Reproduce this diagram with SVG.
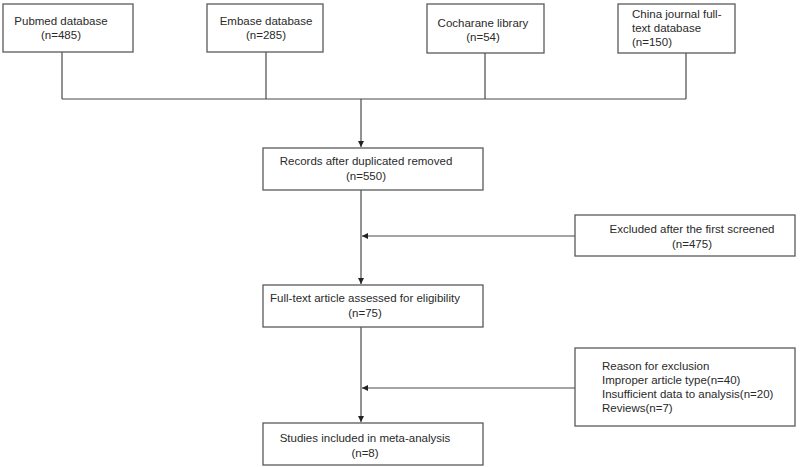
<svg xmlns="http://www.w3.org/2000/svg" width="800" height="467" viewBox="0 0 800 467">
<defs>
<style>
.box{fill:#fff;stroke:#5a5a5a;stroke-width:1.3}
.t{font-family:"Liberation Sans",Arial,sans-serif;font-size:11.5px;fill:#2a2a2a}
.m{text-anchor:middle}
.ln{fill:none;stroke:#4a4a4a;stroke-width:1.2}
</style>
<marker id="ah" viewBox="0 0 10 10" refX="10" refY="5" markerWidth="6" markerHeight="6" markerUnits="userSpaceOnUse" orient="auto">
<path d="M0,0 L10,5 L0,10 z" fill="#222"/>
</marker>
</defs>
<rect width="800" height="467" fill="#fff"/>
<g id="connectors">
<path class="ln" d="M62,52 V99 M266,52 V99 M485,53 V99 M686,53 V99 M62,99 H686"/>
<path class="ln" d="M361,99 V147" marker-end="url(#ah)"/>
<path class="ln" d="M361,190 V284" marker-end="url(#ah)"/>
<path class="ln" d="M575,236 H362" marker-end="url(#ah)"/>
<path class="ln" d="M361,327 V422" marker-end="url(#ah)"/>
<path class="ln" d="M575,388 H362" marker-end="url(#ah)"/>
</g>
<g id="pubmed">
<rect class="box" x="3" y="4" width="130" height="48"/>
<text class="t m" x="61" y="25">Pubmed database</text>
<text class="t m" x="61" y="39">(n=485)</text>
</g>
<g id="embase">
<rect class="box" x="207" y="4" width="116" height="48"/>
<text class="t m" x="266" y="25">Embase database</text>
<text class="t m" x="266" y="39">(n=285)</text>
</g>
<g id="cochrane">
<rect class="box" x="427" y="4" width="117" height="49"/>
<text class="t m" x="483" y="27">Cocharane library</text>
<text class="t m" x="483" y="41">(n=54)</text>
</g>
<g id="china">
<rect class="box" x="618" y="4" width="117" height="49"/>
<text class="t" x="632" y="18">China journal full-</text>
<text class="t" x="632" y="32">text database</text>
<text class="t" x="632" y="46">(n=150)</text>
</g>
<g id="records">
<rect class="box" x="263" y="148" width="220" height="42"/>
<text class="t m" x="366" y="165">Records after duplicated removed</text>
<text class="t m" x="366" y="180">(n=550)</text>
</g>
<g id="excluded">
<rect class="box" x="575" y="215" width="220" height="41"/>
<text class="t m" x="692" y="233">Excluded after the first screened</text>
<text class="t m" x="692" y="248">(n=475)</text>
</g>
<g id="fulltext">
<rect class="box" x="263" y="285" width="220" height="42"/>
<text class="t m" x="365" y="302">Full-text article assessed for eligibility</text>
<text class="t m" x="365" y="317">(n=75)</text>
</g>
<g id="reason">
<rect class="box" x="575" y="348" width="220" height="78"/>
<text class="t" x="602" y="370">Reason for exclusion</text>
<text class="t" x="602" y="384">Improper article type(n=40)</text>
<text class="t" x="602" y="398">Insufficient data to analysis(n=20)</text>
<text class="t" x="602" y="412">Reviews(n=7)</text>
</g>
<g id="studies">
<rect class="box" x="263" y="423" width="220" height="42"/>
<text class="t m" x="365" y="442">Studies included in meta-analysis</text>
<text class="t m" x="365" y="457">(n=8)</text>
</g>
</svg>
